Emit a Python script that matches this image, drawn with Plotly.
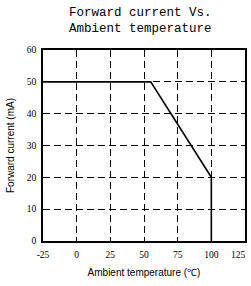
import plotly.graph_objects as go

temp = [-25, 55, 100, 100]
current = [50, 50, 20, 0]
x_ticks = [-25, 0, 25, 50, 75, 100, 125]
y_ticks = [0, 10, 20, 30, 40, 50, 60]

fig = go.Figure()
fig.add_trace(go.Scatter(x=temp, y=current, mode="lines",
                         line=dict(color="black", width=1.6), showlegend=False,
                         hoverinfo="skip"))

tick_font = dict(family="Liberation Serif", size=9.5, color="black")
fig.update_layout(
    width=251, height=286,
    margin=dict(l=43, r=6, t=50, b=45, autoexpand=False),
    paper_bgcolor="white", plot_bgcolor="white",
    annotations=[
        dict(text="Forward current Vs.<br>Ambient temperature", x=0.485, y=1,
             xref="paper", yref="paper", xanchor="center", yanchor="bottom",
             yshift=12, showarrow=False,
             font=dict(family="Liberation Mono", size=12.5, color="black")),
        dict(text=str(x_ticks[-1]), x=x_ticks[-1], y=0, xref="x", yref="paper",
             xanchor="right", yanchor="top", xshift=3, yshift=-7,
             showarrow=False, font=tick_font),
    ],
)
fig.update_xaxes(
    range=[-25, 125], tickvals=x_ticks,
    ticktext=[str(v) for v in x_ticks[:-1]] + [""],
    showgrid=True, gridcolor="black", griddash="7px,4px", gridwidth=1,
    showline=True, linecolor="black", linewidth=1.5, mirror=True,
    zeroline=False, ticks="", ticklabelstandoff=4,
    tickfont=tick_font,
    title=dict(text="Ambient temperature (℃)", standoff=10,
               font=dict(family="Liberation Sans", size=10, color="black")),
)
fig.update_yaxes(
    range=[0, 60], tickvals=y_ticks, ticktext=[str(v) for v in y_ticks],
    showgrid=True, gridcolor="black", griddash="7px,4px", gridwidth=1,
    showline=True, linecolor="black", linewidth=1.5, mirror=True,
    zeroline=False, ticks="", ticklabelstandoff=3,
    tickfont=tick_font,
    title=dict(text="Forward current (mA)", standoff=10,
               font=dict(family="Liberation Sans", size=10, color="black")),
)

fig.write_html("out.html",
               config={"displayModeBar": False},
               post_script="document.body.style.margin='0';")
